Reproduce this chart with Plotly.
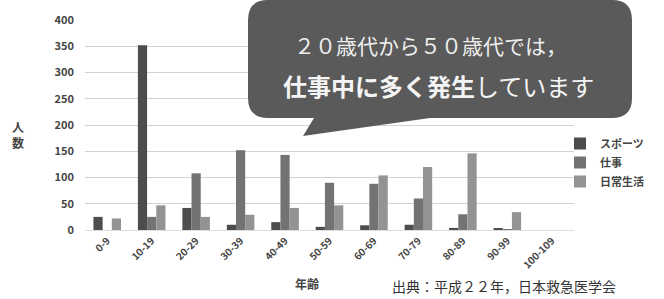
import plotly.graph_objects as go

categories = ["0-9", "10-19", "20-29", "30-39", "40-49", "50-59",
              "60-69", "70-79", "80-89", "90-99", "100-109"]
sports = [25, 352, 42, 10, 15, 6, 9, 10, 4, 2, 0]
work = [0, 25, 108, 152, 143, 90, 88, 60, 30, 1, 0]
daily = [22, 47, 25, 29, 42, 47, 104, 120, 146, 34, 0]
series_names = ["スポーツ", "仕事", "日常生活"]
y_ticks = [0, 50, 100, 150, 200, 250, 300, 350, 400]

W, H = 664, 299
L, R, T, B = 85, 90, 20, 69
PW, PH = W - L - R, H - T - B

def px(x):
    return (x - L) / PW

def py(y):
    return (H - B - y) / PH

FONT = "Noto Sans CJK JP"
colors = ["#4d4d4d", "#737373", "#939393"]

fig = go.Figure()
for name, vals, c in zip(series_names, [sports, work, daily], colors):
    fig.add_trace(go.Bar(x=categories, y=vals, name=name, marker_color=c,
                         marker_line_width=0))

fig.update_layout(
    width=W, height=H,
    margin=dict(l=L, r=R, t=T, b=B),
    paper_bgcolor="white", plot_bgcolor="white",
    barmode="group", bargap=0.38, bargroupgap=0,
    font=dict(family=FONT, color="#444"),
    showlegend=True,
    legend=dict(x=px(560), y=py(129), xanchor="left", yanchor="top",
                font=dict(size=11, color="#444", family=FONT, weight="bold"),
                itemwidth=30, tracegroupgap=0, bgcolor="rgba(0,0,0,0)"),
    xaxis=dict(tickangle=-45, tickfont=dict(size=10, color="#444", family=FONT, weight="bold"),
               showgrid=False, showline=True, linecolor="#dddddd", ticks=""),
    yaxis=dict(range=[0, 400], tickvals=y_ticks, showgrid=True, gridcolor="#d2d2d2",
               tickfont=dict(size=11, color="#444", family=FONT, weight="bold"),
               zeroline=False, ticklabelstandoff=10),
)

# callout bubble
x0, x1, y0, y1, r = 248, 632, 0, 118, 20
def P(x, y):
    return f"{px(x):.5f},{py(y):.5f}"
path = (f"M {P(x0 + r, y0)} L {P(x1 - r, y0)} Q {P(x1, y0)} {P(x1, y0 + r)} "
        f"L {P(x1, y1 - r)} Q {P(x1, y1)} {P(x1 - r, y1)} "
        f"L {P(430, y1)} L {P(303, 136)} L {P(314, y1)} "
        f"L {P(x0 + r, y1)} Q {P(x0, y1)} {P(x0, y1 - r)} "
        f"L {P(x0, y0 + r)} Q {P(x0, y0)} {P(x0 + r, y0)} Z")
fig.add_shape(type="path", path=path, xref="paper", yref="paper",
              fillcolor="#5a5a5a", line=dict(width=0), layer="above")

fig.add_annotation(x=px(430), y=py(45), xref="paper", yref="paper",
                   xanchor="center", yanchor="middle",
                   text="２０歳代から５０歳代では，", showarrow=False,
                   font=dict(size=21, color="#eeeeee", family=FONT))
fig.add_annotation(x=px(438), y=py(85), xref="paper", yref="paper",
                   xanchor="center", yanchor="middle",
                   text="<b>仕事中に多く発生</b>しています", showarrow=False,
                   font=dict(size=24, color="#f4f4f4", family=FONT))

fig.add_annotation(x=px(18), y=py(134), xref="paper", yref="paper",
                   xanchor="center", yanchor="middle",
                   text="人<br>数", showarrow=False,
                   font=dict(size=12, color="#444", family=FONT, weight="bold"))
fig.add_annotation(x=px(307), y=py(283), xref="paper", yref="paper",
                   xanchor="center", yanchor="middle",
                   text="年齢", showarrow=False,
                   font=dict(size=12, color="#444", family=FONT, weight="bold"))
fig.add_annotation(x=px(390), y=py(286), xref="paper", yref="paper",
                   xanchor="left", yanchor="middle",
                   text="出典：平成２２年，日本救急医学会", showarrow=False,
                   font=dict(size=14, color="#333", family=FONT))

fig.write_html("out.html", config={"displayModeBar": False},
               post_script="document.body.style.margin='0';")
